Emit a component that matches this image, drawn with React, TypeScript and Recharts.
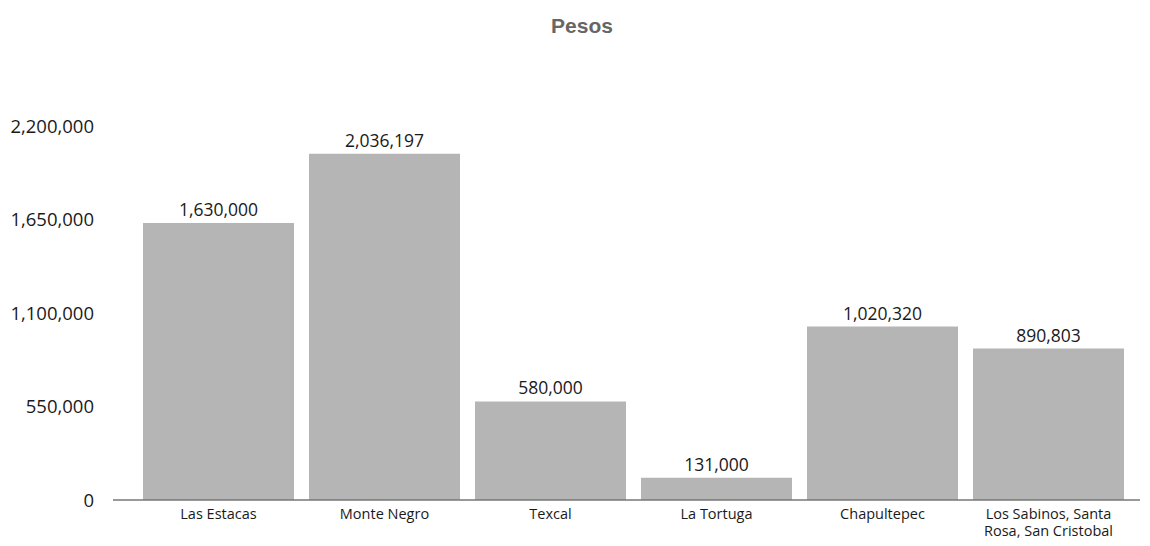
import { BarChart, Bar, XAxis, YAxis, LabelList } from 'recharts';

const places = [
  'Las Estacas',
  'Monte Negro',
  'Texcal',
  'La Tortuga',
  'Chapultepec',
  'Los Sabinos, Santa\nRosa, San Cristobal',
];
const pesos = [1630000, 2036197, 580000, 131000, 1020320, 890803];
const yTicks = [0, 550000, 1100000, 1650000, 2200000];

const data = places.map((place, i) => ({ place, pesos: pesos[i] }));

const FONT = '"Open Sans", "Noto Sans", sans-serif';
const fmt = (v: number) => v.toLocaleString('en-US');

function PlaceTick(props: any) {
  const { x, y, payload } = props;
  const lines = String(payload.value).split('\n');
  return (
    <text x={x} y={y} textAnchor="middle" fill="#1a1a1a" fontSize={14.5} fontFamily={FONT}>
      {lines.map((l, i) => (
        <tspan key={i} x={x} dy={i === 0 ? 19 : 17}>
          {l}
        </tspan>
      ))}
    </text>
  );
}

export default function App() {
  return (
    <div
      style={{
        position: 'absolute',
        top: 0,
        left: 0,
        width: 1150,
        height: 546,
        background: '#fff',
      }}
    >
      <div
        style={{
          position: 'absolute',
          top: 14,
          left: 0,
          width: 1164,
          textAlign: 'center',
          fontFamily: '"Liberation Sans", Arial, sans-serif',
          fontWeight: 'bold',
          fontSize: 21,
          color: '#666',
        }}
      >
        Pesos
      </div>
      <BarChart
        width={1150}
        height={546}
        data={data}
        margin={{ top: 126, right: 10, bottom: 16, left: 0 }}
        barCategoryGap={7.5}
      >
        <XAxis
          dataKey="place"
          interval={0}
          height={30}
          tickLine={false}
          tickSize={0}
          tickMargin={0}
          padding={{ left: 22.5, right: 8.5 }}
          axisLine={{ stroke: '#777', strokeWidth: 1.5 }}
          tick={<PlaceTick />}
        />
        <YAxis
          domain={[0, 2200000]}
          ticks={yTicks}
          width={113}
          axisLine={false}
          tickLine={false}
          tickSize={0}
          tickMargin={19}
          tickFormatter={fmt}
          tick={{ fill: '#1a1a1a', fontSize: 18.5, fontFamily: FONT }}
        />
        <Bar dataKey="pesos" fill="#b5b5b5" isAnimationActive={false}>
          <LabelList
            dataKey="pesos"
            position="top"
            offset={7}
            formatter={(v: any) => fmt(Number(v))}
            style={{ fill: '#1a1a1a', fontSize: 17.5, fontFamily: FONT }}
          />
        </Bar>
      </BarChart>
    </div>
  );
}
